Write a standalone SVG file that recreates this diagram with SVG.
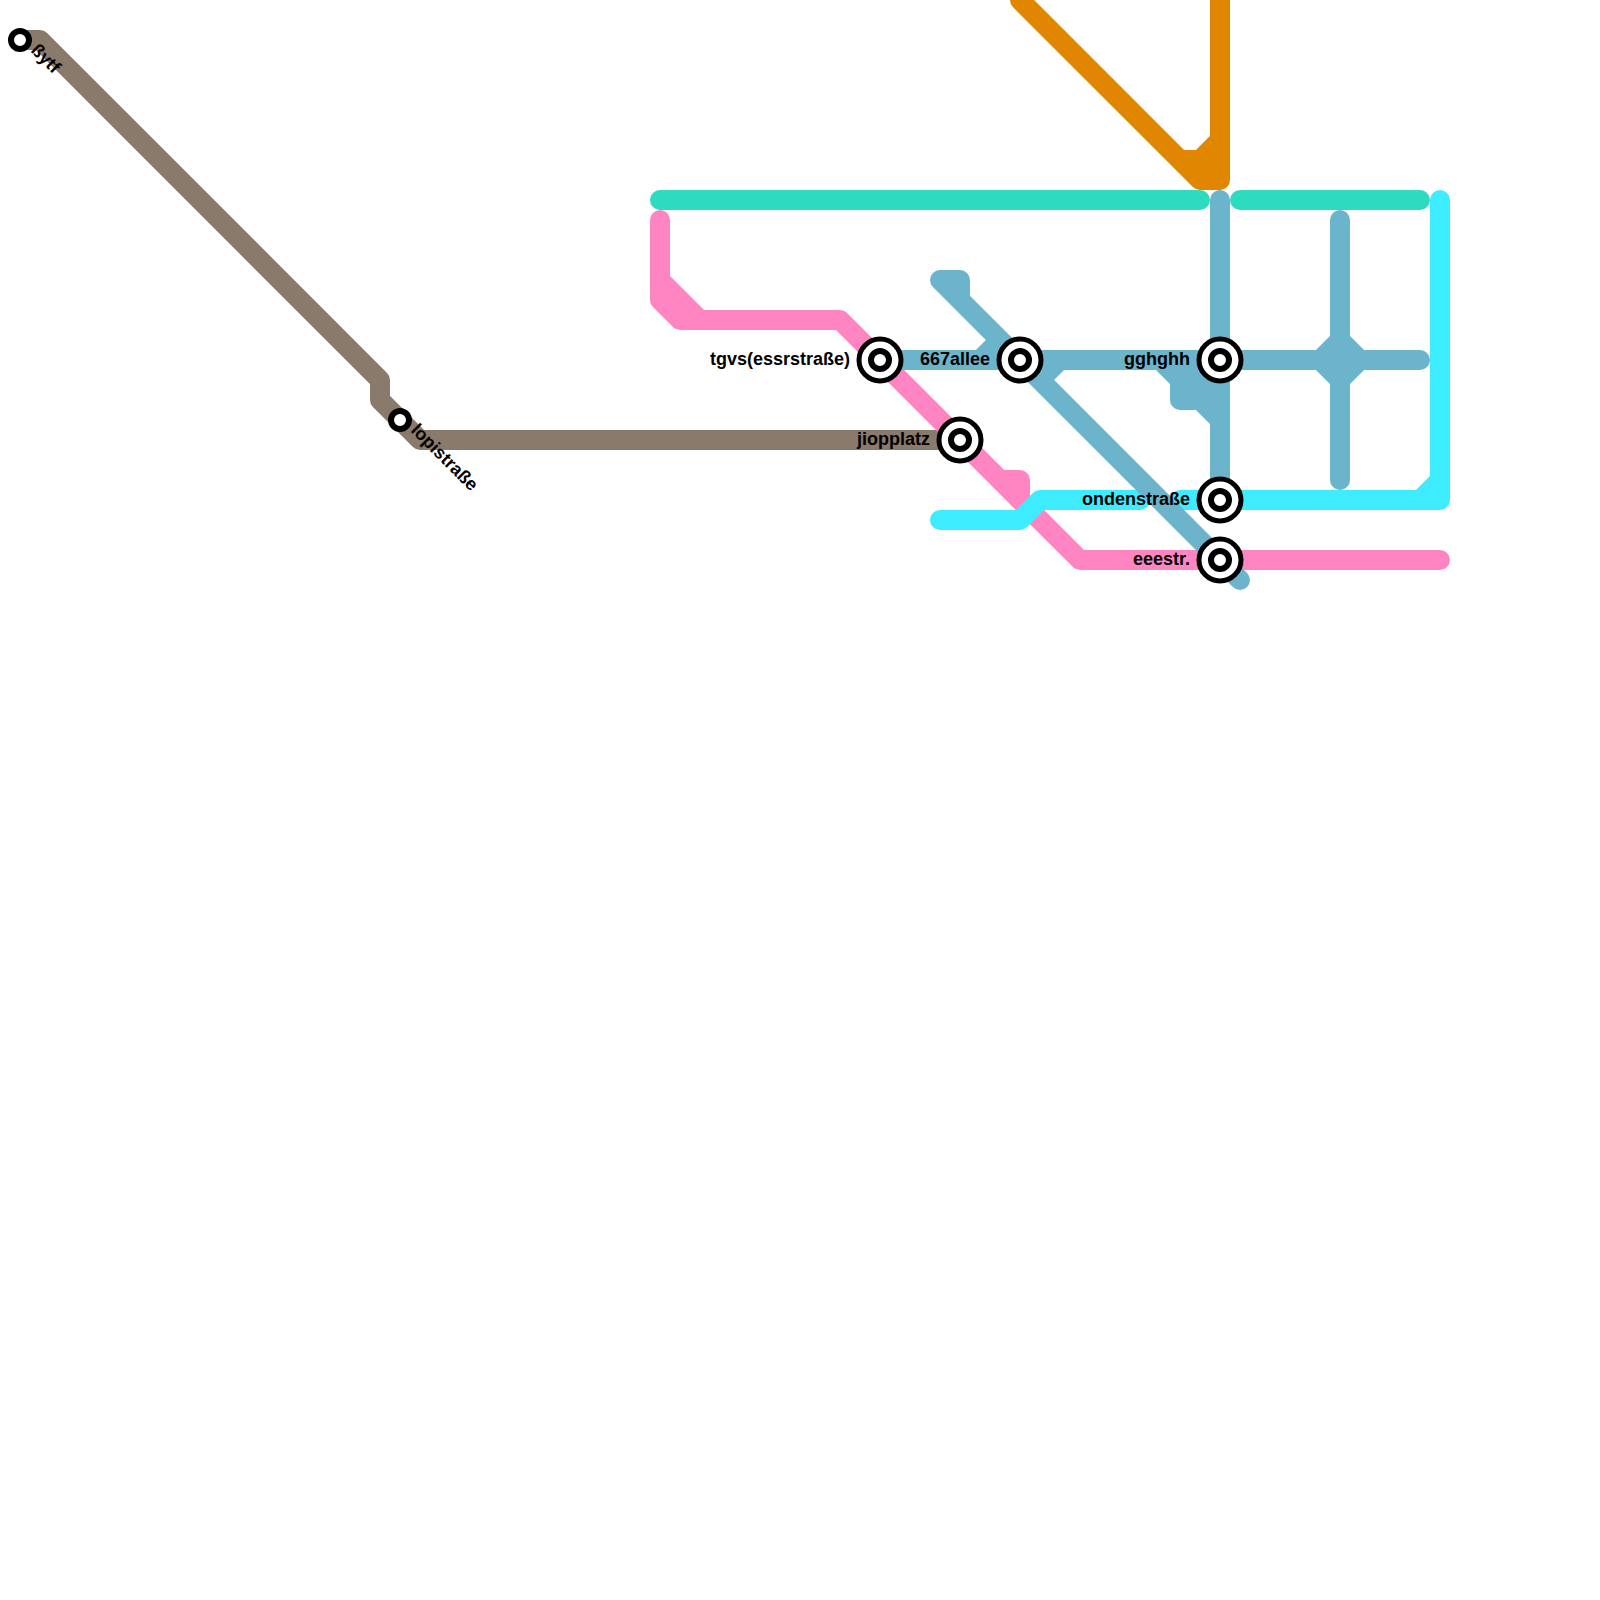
<svg xmlns="http://www.w3.org/2000/svg" width="1600" height="1600" viewBox="0 0 1600 1600">
<style>
.l{fill:none;stroke-width:20;stroke-linecap:round;stroke-linejoin:round}
.brown{stroke:#8a7a6b}.teal{stroke:#2edbc1}.pink{stroke:#ff85c2}.blue{stroke:#6cb4cc}.cyan{stroke:#3decff}.orange{stroke:#e08600}
.o{fill:#fff;stroke:#000;stroke-width:5}
.i{fill:#fff;stroke:#000;stroke-width:6}
text{font-family:"Liberation Sans",Arial,sans-serif;font-weight:700;font-size:18px;fill:#000}
.e{text-anchor:end}
</style>
<rect width="1600" height="1600" fill="#fff"/>
<g id="connectors">
<path class="l brown" d="M20 40H40L380 380V400L420 440H960"/>
<path class="l teal" d="M660 200H1200M1240 200H1420"/>
<path class="l pink" d="M660 220V300L680 320H840L1080 560H1440M660 280L700 320M1000 480H1020V500"/>
<path class="l orange" d="M1020 0L1200 180H1220V0M1180 160H1200L1220 140M1200 170H1220"/>
<path class="l cyan" d="M940 520H1020L1040 500H1140M1180 500H1440V200M1420 500L1440 480"/>
<path class="l blue" d="M940 280L1240 580M940 280H960V300M880 360H1420M980 360L1000 340M1040 380L1060 360M1220 200V500M1340 220V480M1160 360L1180 380V400H1200L1220 420M1180 380H1220M1180 400H1220M1320 360L1340 340L1360 360L1340 380Z"/>
</g>
<g id="n1"><circle class="i" cx="20" cy="40" r="9"/><text transform="translate(30 51) rotate(45)">ßytf</text></g>
<g id="n2"><circle class="i" cx="400" cy="420" r="9"/><text transform="translate(410 431) rotate(45)">lopistraße</text></g>
<g id="n3"><circle class="o" cx="880" cy="360" r="21"/><circle class="i" cx="880" cy="360" r="9"/><text class="e" x="850" y="365">tgvs(essrstraße)</text></g>
<g id="n4"><circle class="o" cx="1020" cy="360" r="21"/><circle class="i" cx="1020" cy="360" r="9"/><text class="e" x="990" y="365">667allee</text></g>
<g id="n5"><circle class="o" cx="1220" cy="360" r="21"/><circle class="i" cx="1220" cy="360" r="9"/><text class="e" x="1190" y="365">gghghh</text></g>
<g id="n6"><circle class="o" cx="960" cy="440" r="21"/><circle class="i" cx="960" cy="440" r="9"/><text class="e" x="930" y="445">jiopplatz</text></g>
<g id="n7"><circle class="o" cx="1220" cy="500" r="21"/><circle class="i" cx="1220" cy="500" r="9"/><text class="e" x="1190" y="505">ondenstraße</text></g>
<g id="n8"><circle class="o" cx="1220" cy="560" r="21"/><circle class="i" cx="1220" cy="560" r="9"/><text class="e" x="1190" y="565">eeestr.</text></g>
</svg>
